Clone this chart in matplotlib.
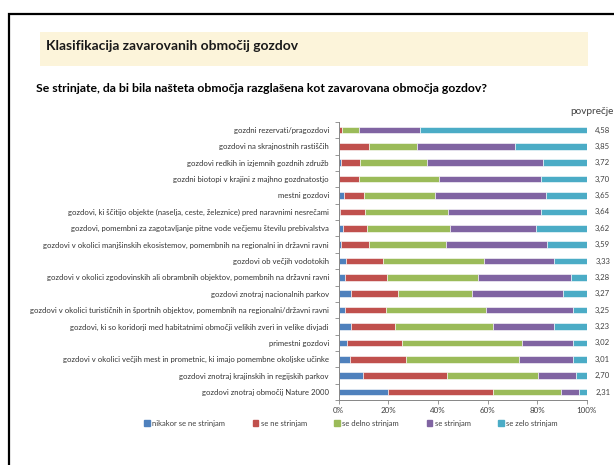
import matplotlib
matplotlib.use('Agg')
import matplotlib.pyplot as plt
import numpy as np
from matplotlib.patches import Rectangle, Patch

plt.rcParams['font.family'] = ['Lato', 'DejaVu Sans']

categories = [
    'gozdni rezervati/pragozdovi',
    'gozdovi na skrajnostnih rastiščih',
    'gozdovi redkih in izjemnih gozdnih združb',
    'gozdni biotopi v krajini z majhno gozdnatostjo',
    'mestni gozdovi',
    'gozdovi, ki ščitijo objekte (naselja, ceste, železnice) pred naravnimi nesrečami',
    'gozdovi, pomembni za zagotavljanje pitne vode večjemu številu prebivalstva',
    'gozdovi v okolici manjšinskih ekosistemov, pomembnih na regionalni in državni ravni',
    'gozdovi ob večjih vodotokih',
    'gozdovi v okolici zgodovinskih ali obrambnih objektov, pomembnih na državni ravni',
    'gozdovi znotraj nacionalnih parkov',
    'gozdovi v okolici turističnih in športnih objektov, pomembnih na regionalni/državni ravni',
    'gozdovi, ki so koridorji med habitatnimi območji velikih zveri in velike divjadi',
    'primestni gozdovi',
    'gozdovi v okolici večjih mest in prometnic, ki imajo pomembne okoljske učinke',
    'gozdovi znotraj krajinskih in regijskih parkov',
    'gozdovi znotraj območij Nature 2000',
]
averages = ['4,58', '3,85', '3,72', '3,70', '3,65', '3,64', '3,62', '3,59', '3,33',
            '3,28', '3,27', '3,25', '3,23', '3,02', '3,01', '2,70', '2,31']

series_names = ['nikakor se ne strinjam', 'se ne strinjam', 'se delno strinjam',
                'se strinjam', 'se zelo strinjam']
nikakor = [0.3, 0.2, 1.1, 0.3, 2.3, 0.4, 1.6, 1.1, 2.8, 2.4, 4.8, 2.4, 4.8, 3.5, 4.4, 9.7, 19.8]
ne = [1.0, 12.2, 7.3, 7.7, 8.1, 10.2, 9.8, 11.2, 15.1, 17.2, 19.1, 16.7, 17.9, 22.2, 22.6, 34.1, 42.6]
delno = [7.0, 19.2, 27.4, 32.3, 28.5, 33.6, 33.5, 30.9, 40.7, 36.6, 29.8, 40.3, 39.7, 48.4, 45.8, 36.4, 27.2]
strinjam = [24.6, 39.4, 46.4, 41.3, 44.5, 37.4, 34.7, 40.7, 28.4, 37.6, 36.8, 35.1, 24.6, 20.4, 21.6, 15.5, 7.4]
zelo = [67.1, 29.0, 17.8, 18.4, 16.6, 18.4, 20.4, 16.1, 13.0, 6.2, 9.5, 5.5, 13.0, 5.5, 5.6, 4.3, 3.0]
colors = ['#4F81BD', '#C0504D', '#9BBB59', '#8064A2', '#4BACC6']

fig = plt.figure(figsize=(6.14, 4.65), dpi=100)

# okvir in naslovna vrstica
fig.patches.append(Rectangle((9 / 614, -0.2), 1.2, 0.97 + 0.2, transform=fig.transFigure,
                             fill=False, edgecolor='black', lw=1.6))
fig.patches.append(Rectangle((40 / 614, 1 - 66 / 465), 548 / 614, 34 / 465,
                             transform=fig.transFigure, facecolor='#FCF4DA', edgecolor='none'))
fig.text(46 / 614, 1 - 46 / 465, 'Klasifikacija zavarovanih območij gozdov',
         fontsize=10, fontweight='bold', va='center', ha='left', color='#1a1a1a')
fig.text(36 / 614, 1 - 88 / 465,
         'Se strinjate, da bi bila našteta območja razglašena kot zavarovana območja gozdov?',
         fontsize=8.8, fontweight='bold', va='center', ha='left', color='black')
fig.text(570 / 614, 1 - 112 / 465, 'povprečje', fontsize=7.2, va='center', ha='left', color='#404040')

ax = fig.add_axes([338.7 / 614, 64.8 / 465, 248 / 614, 278.4 / 465])
data = np.array([nikakor, ne, delno, strinjam, zelo])
y = np.arange(len(categories))
left = np.zeros(len(categories))
for vals, c, name in zip(data, colors, series_names):
    ax.barh(y, vals, left=left, height=0.4, color=c, edgecolor='white', linewidth=0.4, label=name)
    left += vals

ax.set_ylim(len(categories) - 0.5, -0.5)
ax.set_xlim(0, 100)
ax.set_xticks([0, 20, 40, 60, 80, 100])
ax.set_xticklabels(['0%', '20%', '40%', '60%', '80%', '100%'], fontsize=5.8, color='#404040')
ax.set_yticks(y)
ax.set_yticklabels(categories, fontsize=5.6, color='#333333')
ax.set_yticks(np.arange(-0.5, len(categories)), minor=True)
ax.tick_params(axis='y', which='major', length=0, pad=7)
ax.tick_params(axis='y', which='minor', length=3, color='#868686', width=0.6)
ax.tick_params(axis='x', length=3, color='#868686', width=0.6, pad=2)
for s in ['top', 'right']:
    ax.spines[s].set_visible(False)
for s in ['left', 'bottom']:
    ax.spines[s].set_color('#868686')
    ax.spines[s].set_linewidth(0.7)

for yi, a in zip(y, averages):
    ax.annotate(a, (1, yi), xycoords=('axes fraction', 'data'), xytext=(11.5, 0),
                textcoords='offset points', ha='center', va='center', fontsize=5.6, color='#404040')

handles = [Patch(color=c) for c in colors]
fig.legend(handles, series_names, loc='center', bbox_to_anchor=(351 / 614, 1 - 423 / 465),
           ncol=5, frameon=False, fontsize=5.5, handlelength=0.75, handleheight=0.75,
           handletextpad=0.3, columnspacing=3.6, labelcolor='#404040')

fig.savefig('out.png', dpi=100)
